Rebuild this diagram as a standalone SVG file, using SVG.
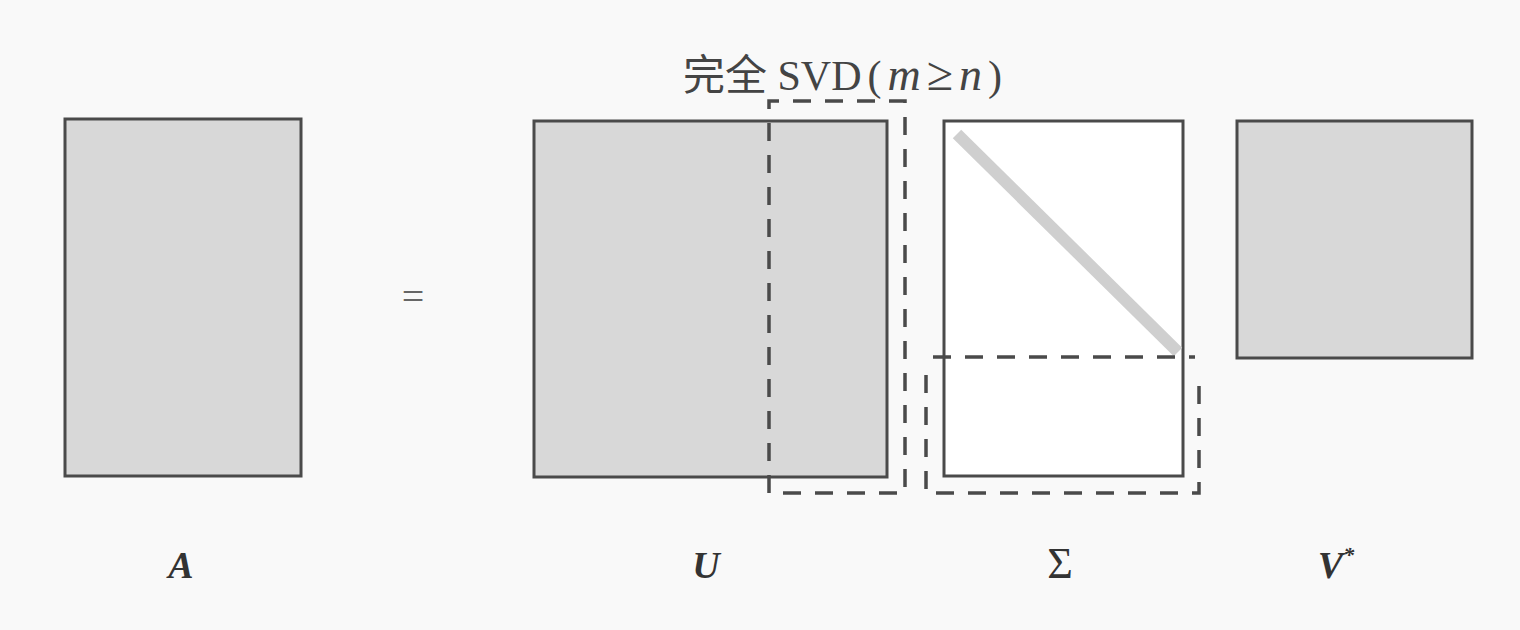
<svg xmlns="http://www.w3.org/2000/svg" width="1520" height="630" viewBox="0 0 1520 630">
<style>
.m{fill:#d8d8d8;stroke:#4a4a4a;stroke-width:3}
.w{fill:#ffffff;stroke:#4a4a4a;stroke-width:3}
.d{fill:none;stroke:#4a4a4a;stroke-width:3.5;stroke-dasharray:18 14}
.lbl{font-family:"Liberation Serif",serif;font-style:italic;font-weight:bold;font-size:38px;fill:#333;text-anchor:middle}
.t{font-family:"Liberation Serif","Noto Sans CJK SC",serif;font-size:42px;fill:#444}
.it{font-family:"Liberation Serif",serif;font-style:italic;font-size:46px}
</style>
<rect x="0" y="0" width="1520" height="630" fill="#f9f9f9"/>
<g id="title"><text class="t" x="683" y="90">完全 SVD<tspan dx="6">(</tspan><tspan dx="6" class="it">m</tspan><tspan dx="6" font-size="48">≥</tspan><tspan dx="6" class="it">n</tspan><tspan dx="6">)</tspan></text></g>
<g id="A"><rect class="m" x="65" y="119" width="236" height="357"/><text class="lbl" x="181" y="578">A</text></g>
<g id="eq"><text x="413" y="310" font-family="Liberation Serif,serif" font-size="40" fill="#666" text-anchor="middle">=</text></g>
<g id="U"><rect class="m" x="534" y="121" width="353" height="356"/><text class="lbl" x="706" y="578">U</text></g>
<g id="Sigma"><rect class="w" x="944" y="121" width="239" height="355"/>
<line x1="957" y1="134" x2="1178" y2="352" stroke="#cfcfcf" stroke-width="12"/>
<text x="1060" y="578" font-family="Liberation Serif,serif" font-size="44" fill="#333" text-anchor="middle">Σ</text></g>
<g id="V"><rect class="m" x="1237" y="121" width="235" height="237"/><text class="lbl" x="1336" y="578">V<tspan font-size="22" dy="-16">*</tspan></text></g>
<g id="connectors">
<path class="d" d="M769 493 V101 H905 V493 Z"/>
<path class="d" d="M933 357 H1195"/>
<path class="d" d="M926 375 V493 H1199 V375"/>
</g>
</svg>
